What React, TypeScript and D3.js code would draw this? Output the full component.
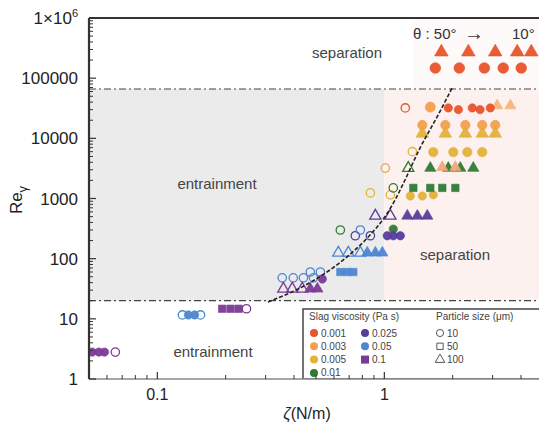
import React from 'react';
import * as d3 from 'd3';

// ---------- data (ζ in N/m, Re_γ) ----------
const yTickValues = [1, 10, 100, 1000, 10000, 100000];
const yTickLabels = ['1', '10', '100', '1000', '10000', '100000'];
const xTickValues = [0.1, 1];
const xTickLabels = ['0.1', '1'];

const reUpper = 66000;
const reLower = 20;

const curveZeta = [0.307, 0.425, 0.559, 0.685, 0.865, 0.997, 1.115, 1.221, 1.436, 1.706, 1.988];
const curveRe = [19, 32.5, 60, 107, 247, 474, 944, 1880, 6900, 22600, 68600];

// viscosity 0.001
const redTopTri = [[1.783, 272000], [2.345, 272000], [3.08, 272000], [3.85, 272000], [4.44, 272000]];
const redTopCirc = [[1.677, 147600], [2.139, 147600], [2.758, 147600], [3.34, 147600], [4.01, 147600]];
const redOpen = [[1.237, 32000]];
const redRow = [[1.913, 32000], [2.12, 30000], [2.44, 32000], [2.64, 30000], [2.93, 32000]];
// viscosity 0.003
const orangeRow1 = [[1.594, 33000]];
const orangeTri1 = [[3.14, 35000], [3.59, 35000]];
const orangeCirc2 = [[1.47, 16600], [1.856, 16600], [2.274, 16600], [2.7, 16600], [3.08, 16600]];
const orangeOpen3 = [[1.01, 3200]];
const orangeTri3 = [[1.8, 3300], [2.055, 3300]];
// viscosity 0.005
const goldTri2 = [[1.47, 12000], [1.856, 12000], [2.274, 12000], [2.7, 12000], [3.08, 12000]];
const goldOpen1 = [[1.329, 6000], [0.868, 1240], [1.063, 1150]];
const goldRow1 = [[1.643, 5900], [2.013, 5900], [2.32, 5900], [2.7, 5900]];
const goldRow2 = [[1.302, 1100], [1.47, 1100], [1.643, 1150]];
// viscosity 0.01
const greenOpen = [[0.64, 300], [1.095, 1500]];
const greenFilled = [[1.095, 310]];
const greenRowSq = [[1.342, 1500], [1.594, 1500], [1.8, 1500], [2.055, 1500]];
const greenOpenTri = [[1.275, 3200]];
const greenTri = [[1.594, 3200], [1.913, 3200], [2.16, 3200], [2.466, 3200]];
// viscosity 0.025
const dpOpen = [[0.745, 240], [0.868, 240]];
const dpFilled = [[1.03, 240], [1.095, 240], [1.176, 240]];
const dpOpenTri = [[0.913, 514], [1.063, 514]];
const dpTri = [[1.263, 514], [1.398, 514], [1.546, 514]];
// viscosity 0.05
const blueLowOpen = [[0.129, 11.6], [0.155, 11.6]];
const blueLowFilled = [[0.137, 11.6], [0.146, 11.6]];
const blueOpen = [[0.355, 48], [0.397, 48], [0.44, 48], [0.487, 48], [0.472, 60], [0.523, 60], [0.784, 300]];
const blueSq = [[0.64, 60], [0.687, 60], [0.73, 60]];
const blueOpenTri = [[0.627, 125], [0.694, 125], [0.784, 125]];
const blueTri = [[0.841, 125], [0.913, 125], [0.98, 125]];
// viscosity 0.1
const purpleLowFilled = [[0.0517, 2.8], [0.0553, 2.8], [0.0585, 2.8]];
const purpleOpen = [[0.0653, 2.8], [0.247, 14.7]];
const purpleMidSq = [[0.193, 14.7], [0.21, 14.7], [0.228, 14.7]];
const purpleOpenTri = [[0.359, 31.5], [0.393, 31.5], [0.435, 31.5]];
const purpleTri = [[0.472, 31.5], [0.507, 31.5]];
const purpleFilled = [[0.533, 46]];

const viscLabels = ['0.001', '0.003', '0.005', '0.01', '0.025', '0.05', '0.1'];
const sizeLabels = ['10', '50', '100'];

// ---------- styling ----------
const C = {
  '0.001': '#e8532b',
  '0.003': '#f2a04c',
  '0.005': '#e2b23a',
  '0.01': '#2f7a35',
  '0.025': '#563c9b',
  '0.05': '#4d86d1',
  '0.1': '#7b3a96',
};

type Shape = 'circle' | 'square' | 'triangle';
const series: { pts: number[][]; color: string; shape: Shape; filled: boolean; size?: number }[] = [
  { pts: redTopTri, color: C['0.001'], shape: 'triangle', filled: true, size: 80 },
  { pts: redTopCirc, color: C['0.001'], shape: 'circle', filled: true, size: 90 },
  { pts: goldTri2, color: C['0.005'], shape: 'triangle', filled: true, size: 70 },
  { pts: orangeCirc2, color: C['0.003'], shape: 'circle', filled: true, size: 70 },
  { pts: orangeRow1, color: C['0.003'], shape: 'circle', filled: true, size: 80 },
  { pts: orangeTri1, color: '#f5b57a', shape: 'triangle', filled: true },
  { pts: redOpen, color: C['0.001'], shape: 'circle', filled: false },
  { pts: redRow, color: C['0.001'], shape: 'circle', filled: true },
  { pts: goldOpen1, color: C['0.005'], shape: 'circle', filled: false },
  { pts: goldRow1, color: C['0.005'], shape: 'circle', filled: true, size: 70 },
  { pts: goldRow2, color: C['0.005'], shape: 'circle', filled: true },
  { pts: orangeOpen3, color: C['0.003'], shape: 'circle', filled: false },
  { pts: greenOpenTri, color: C['0.01'], shape: 'triangle', filled: false },
  { pts: greenTri, color: C['0.01'], shape: 'triangle', filled: true },
  { pts: orangeTri3, color: '#f4a77a', shape: 'triangle', filled: true },
  { pts: greenOpen, color: C['0.01'], shape: 'circle', filled: false },
  { pts: greenRowSq, color: C['0.01'], shape: 'square', filled: true },
  { pts: greenFilled, color: C['0.01'], shape: 'circle', filled: true },
  { pts: dpOpen, color: C['0.025'], shape: 'circle', filled: false },
  { pts: dpFilled, color: C['0.025'], shape: 'circle', filled: true },
  { pts: dpOpenTri, color: C['0.025'], shape: 'triangle', filled: false },
  { pts: dpTri, color: C['0.025'], shape: 'triangle', filled: true },
  { pts: blueLowOpen, color: C['0.05'], shape: 'circle', filled: false },
  { pts: blueLowFilled, color: C['0.05'], shape: 'circle', filled: true },
  { pts: blueOpen, color: C['0.05'], shape: 'circle', filled: false },
  { pts: blueSq, color: C['0.05'], shape: 'square', filled: true },
  { pts: blueOpenTri, color: C['0.05'], shape: 'triangle', filled: false },
  { pts: blueTri, color: C['0.05'], shape: 'triangle', filled: true },
  { pts: purpleLowFilled, color: C['0.1'], shape: 'circle', filled: true },
  { pts: purpleOpen, color: C['0.1'], shape: 'circle', filled: false },
  { pts: purpleMidSq, color: C['0.1'], shape: 'square', filled: true },
  { pts: purpleOpenTri, color: C['0.1'], shape: 'triangle', filled: false },
  { pts: purpleTri, color: C['0.1'], shape: 'triangle', filled: true },
  { pts: purpleFilled, color: C['0.1'], shape: 'circle', filled: true },
];

const symType = { circle: d3.symbolCircle, square: d3.symbolSquare, triangle: d3.symbolTriangle };

export default function App() {
  const W = 539, H = 423;
  const L = 89, T = 18, R = 543, B = 379;
  const x = d3.scaleLog().domain([0.05, 5]).range([L, R]);
  const y = d3.scaleLog().domain([1, 1e6]).range([B, T]);
  const font = 'Liberation Sans, Arial, sans-serif';

  const yMinor: number[] = [];
  for (let e = 0; e < 6; e++) for (let k = 2; k <= 9; k++) yMinor.push(k * Math.pow(10, e));
  const xMinor: number[] = [];
  [0.01, 0.1, 1].forEach((d) => { for (let k = 2; k <= 9; k++) { const v = k * d; if (v > 0.05 && v < 5) xMinor.push(v); } });

  const line = d3.line<number>()
    .x((_, i) => x(curveZeta[i]))
    .y((_, i) => y(curveRe[i]))
    .curve(d3.curveMonotoneX);
  const curvePath = line(curveZeta.map((_, i) => i)) || '';

  const sym = (shape: Shape, size: number) => d3.symbol().type(symType[shape]).size(size)() || '';

  const legendCol1 = viscLabels.slice(0, 4);
  const legendCol2 = viscLabels.slice(4);
  const sizeShapes: Shape[] = ['circle', 'square', 'triangle'];

  return (
    <svg width={W} height={H} style={{ position: 'absolute', left: 0, top: 0, background: '#fff' }} fontFamily={font}>
      <defs>
        <clipPath id="plot"><rect x={L} y={T} width={R - L} height={B - T} /></clipPath>
      </defs>
      <g clipPath="url(#plot)">
        <rect x={L} y={y(reUpper)} width={x(1) - L} height={y(reLower) - y(reUpper)} fill="#ebebeb" />
        <rect x={x(1)} y={y(reUpper)} width={R - x(1)} height={y(reLower) - y(reUpper)} fill="#fdf1ef" />
        <rect x={413} y={T} width={R - 413} height={y(reUpper) - T} fill="#fefaf9" />
        <line x1={L} x2={R} y1={y(reUpper)} y2={y(reUpper)} stroke="#444" strokeWidth={1.2} strokeDasharray="7,3,2,3" />
        <line x1={L} x2={R} y1={y(reLower)} y2={y(reLower)} stroke="#444" strokeWidth={1.2} strokeDasharray="7,3,2,3" />

        <text x={347} y={58} fontSize={15} fill="#444" textAnchor="middle">separation</text>
        <text x={217} y={189} fontSize={15} fill="#444" textAnchor="middle">entrainment</text>
        <text x={455} y={260} fontSize={15} fill="#444" textAnchor="middle">separation</text>
        <text x={213} y={357} fontSize={15} fill="#444" textAnchor="middle">entrainment</text>

        <text x={413} y={39} fontSize={15} fill="#333">θ : 50°</text>
        <text x={464} y={40} fontSize={20} fill="#333">→</text>
        <text x={512} y={39} fontSize={15} fill="#333">10°</text>

        {series.map((s, si) => s.pts.map((p, pi) => (
          <path key={`${si}-${pi}`} d={sym(s.shape, s.size ?? 55)}
            transform={`translate(${x(p[0])},${y(p[1])})`}
            fill={s.filled ? s.color : 'none'} fillOpacity={s.filled ? 0.95 : 0}
            stroke={s.color} strokeWidth={s.filled ? 0.6 : 1.3} />
        )))}

        <path d={curvePath} fill="none" stroke="#222" strokeWidth={1.6} strokeDasharray="4,2" />

        {/* legend */}
        <rect x={303} y={309} width={260} height={B - 309} fill="#fff" stroke="#444" strokeWidth={1.5} />
        <text x={309} y={320} fontSize={10} fill="#444">Slag viscosity (Pa s)</text>
        {legendCol1.map((v, i) => (
          <g key={v} transform={`translate(314,${333 + i * 13.3})`}>
            <circle r={4} fill={C[v]} />
            <text x={7} y={3.5} fontSize={10} fill="#444">{v}</text>
          </g>
        ))}
        {legendCol2.map((v, i) => (
          <g key={v} transform={`translate(365,${333 + i * 13.3})`}>
            {v === '0.1' ? <rect x={-4} y={-4} width={8} height={8} fill={C[v]} /> : <circle r={4} fill={C[v]} />}
            <text x={7} y={3.5} fontSize={10} fill="#444">{v}</text>
          </g>
        ))}
        <text x={436} y={320} fontSize={10} fill="#444">Particle size (μm)</text>
        {sizeLabels.map((v, i) => (
          <g key={v} transform={`translate(440,${333 + i * 13.3})`}>
            <path d={sym(sizeShapes[i], 40)} fill="none" stroke="#555" strokeWidth={1} />
            <text x={7} y={3.5} fontSize={10} fill="#444">{v}</text>
          </g>
        ))}
      </g>

      {/* axes frame */}
      <line x1={L} x2={R} y1={T} y2={T} stroke="#333" strokeWidth={2} />
      <line x1={L} x2={R} y1={B} y2={B} stroke="#888" strokeWidth={1.5} />
      <line x1={L} x2={L} y1={T} y2={B} stroke="#333" strokeWidth={2.2} />

      {[...yTickValues, 1e6].map((v) => (
        <line key={`ym${v}`} x1={L} x2={L + 7} y1={y(v)} y2={y(v)} stroke="#333" strokeWidth={1.2} />
      ))}
      {yMinor.map((v) => (
        <line key={`yn${v}`} x1={L} x2={L + 4} y1={y(v)} y2={y(v)} stroke="#333" strokeWidth={1} />
      ))}
      {xTickValues.map((v) => (
        <line key={`xm${v}`} x1={x(v)} x2={x(v)} y1={B} y2={B - 7} stroke="#333" strokeWidth={1.2} />
      ))}
      {xMinor.map((v) => (
        <line key={`xn${v}`} x1={x(v)} x2={x(v)} y1={B} y2={B - 4} stroke="#333" strokeWidth={1} />
      ))}

      {yTickValues.map((v, i) => (
        <text key={`yl${v}`} x={78} y={y(v) + 6} fontSize={17} textAnchor="end" fill="#222">{yTickLabels[i]}</text>
      ))}
      <text x={78} y={y(1e6) + 6} fontSize={17} textAnchor="end" fill="#222">
        1×10<tspan fontSize={11} dy={-7}>6</tspan>
      </text>
      {xTickValues.map((v, i) => (
        <text key={`xl${v}`} x={x(v)} y={400} fontSize={16} textAnchor="middle" fill="#222">{xTickLabels[i]}</text>
      ))}

      <text transform="translate(22,200) rotate(-90)" fontSize={17} textAnchor="middle" fill="#222">
        Re<tspan fontSize={13} dy={5}>γ</tspan>
      </text>
      <text x={307} y={419} fontSize={16} textAnchor="middle" fill="#222">
        <tspan fontStyle="italic">ζ</tspan>(N/m)
      </text>
    </svg>
  );
}
